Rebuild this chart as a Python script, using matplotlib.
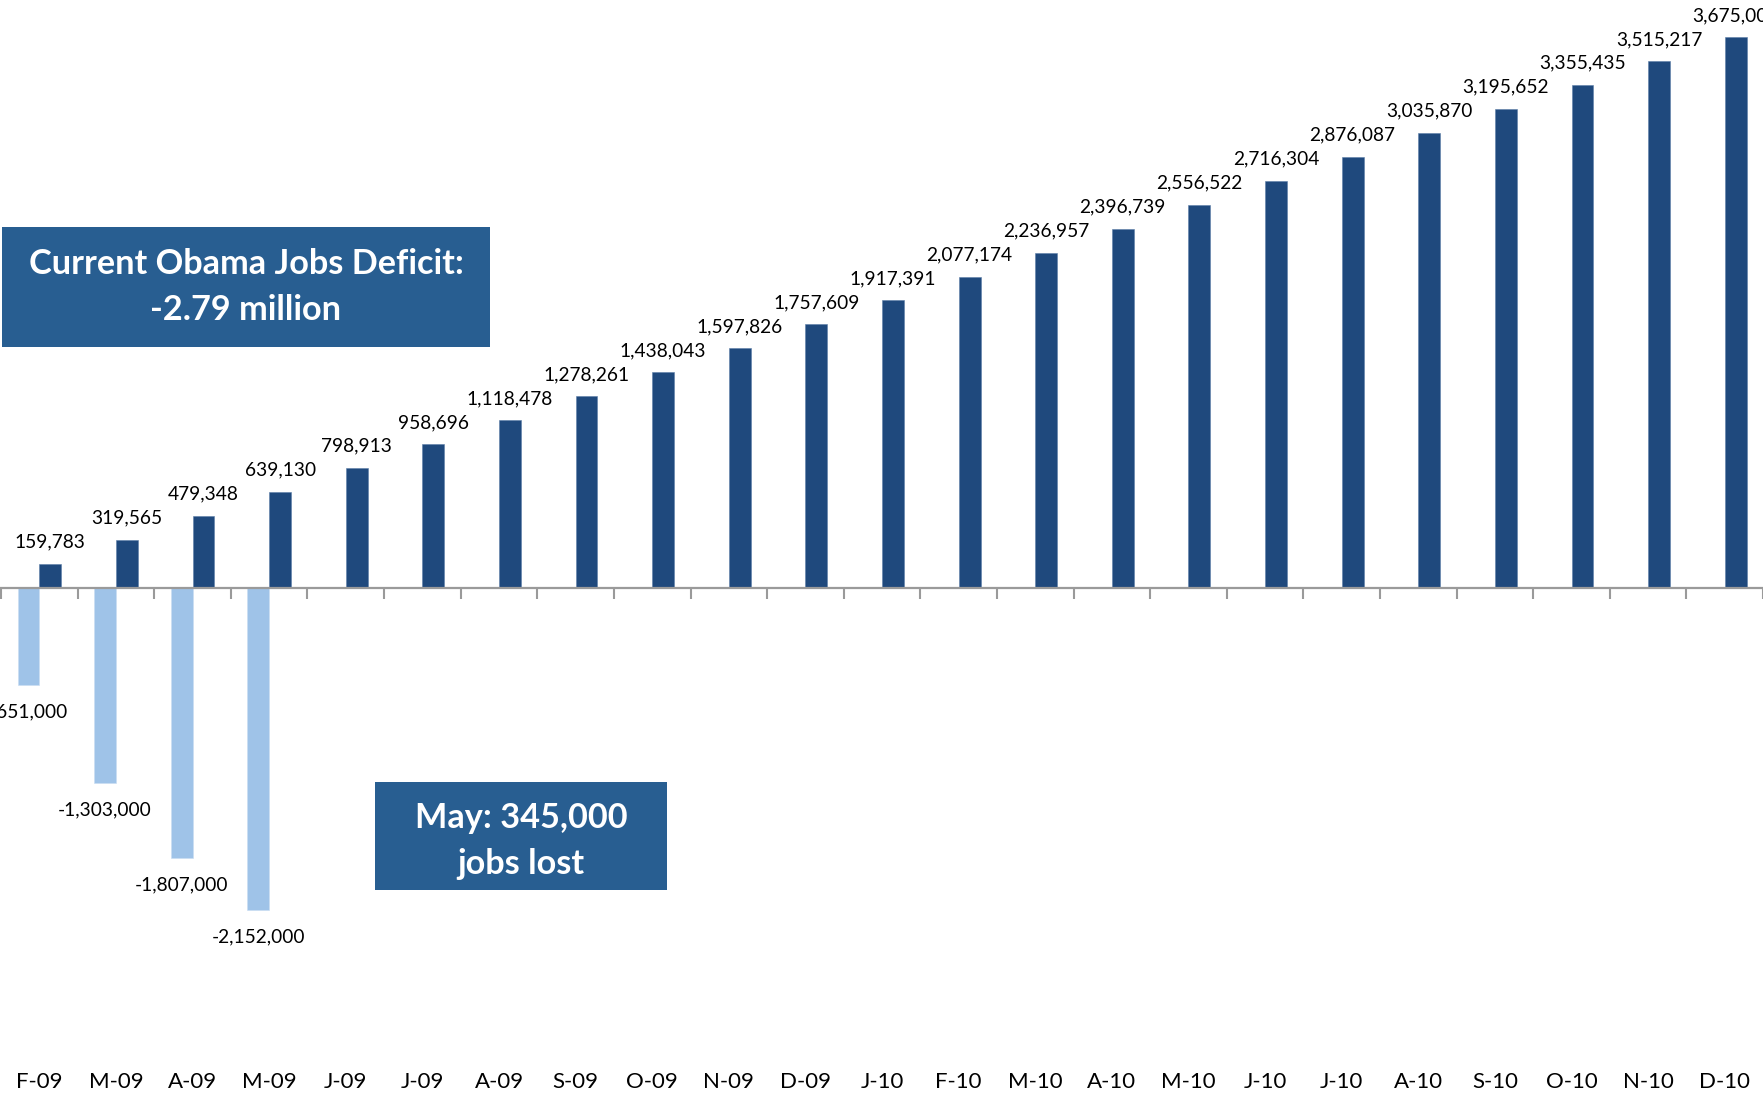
import numpy as np
import matplotlib
matplotlib.use("Agg")
import matplotlib.pyplot as plt
from matplotlib.patches import Rectangle

plt.rcParams['font.family'] = ['Lato', 'DejaVu Sans']

categories = ["F-09", "M-09", "A-09", "M-09", "J-09", "J-09", "A-09", "S-09", "O-09",
              "N-09", "D-09", "J-10", "F-10", "M-10", "A-10", "M-10", "J-10", "J-10",
              "A-10", "S-10", "O-10", "N-10", "D-10"]
projected = [159783, 319565, 479348, 639130, 798913, 958696, 1118478, 1278261, 1438043,
             1597826, 1757609, 1917391, 2077174, 2236957, 2396739, 2556522, 2716304,
             2876087, 3035870, 3195652, 3355435, 3515217, 3675000]
actual = [-651000, -1303000, -1807000, -2152000]

DARK = "#1F497D"
LIGHT = "#9FC3E8"
BOX = "#285E91"

W, H = 1763, 1095
fig = plt.figure(figsize=(W / 100, H / 100), dpi=100)
ax = fig.add_axes([0, 0, 1, 1])

x = np.arange(len(categories))
bw = 0.285
off = 0.143

ax.bar(x + off, projected, width=bw, color=DARK, edgecolor="#5d7fa8", linewidth=0.4, zorder=2)
xa = np.arange(len(actual))
ax.bar(xa - off, actual, width=bw, color=LIGHT, edgecolor="#c9ddf2", linewidth=0.4, zorder=2)

# scale: zero at 587.7 px from top, 149.8 px per million
zero_px = 587.7
ppm = 149.8
ax.set_ylim(-(H - zero_px) / ppm * 1e6, zero_px / ppm * 1e6)
ax.set_xlim(-0.514, 22.48)

for xi, v in zip(x, projected):
    ax.annotate(f"{v:,}", (xi + off, v), xytext=(0, 9.5), textcoords="offset points",
                ha="center", va="bottom", fontsize=13.8, color="black")
for xi, v in zip(xa, actual):
    ax.annotate(f"{v:,}", (xi - off, v), xytext=(0, -13), textcoords="offset points",
                ha="center", va="top", fontsize=13.8, color="black")

# axis at zero with ticks between categories
for s in ["top", "right", "left"]:
    ax.spines[s].set_visible(False)
ax.spines["bottom"].set_position(("data", 0))
ax.spines["bottom"].set_color("#9a9a9a")
ax.spines["bottom"].set_linewidth(1.6)
ax.spines["bottom"].set_zorder(3)
ax.set_xticks(np.arange(-1, len(categories)) + 0.5)
ax.set_xticklabels([])
ax.tick_params(axis="x", direction="out", length=8, width=1.5, color="#9a9a9a")
ax.set_yticks([])

# category labels at bottom
trans = ax.get_xaxis_transform()
for xi, c in zip(x, categories):
    ax.text(xi, (H - 1082) / H, c, transform=trans, ha="center", va="center",
            fontsize=16, color="black")

def box(x0, y0, x1, y1, lines, fs, dy=0):
    ax.add_patch(Rectangle((x0 / W, 1 - y1 / H), (x1 - x0) / W, (y1 - y0) / H,
                           transform=ax.transAxes, facecolor=BOX, edgecolor="none", zorder=4))
    ax.text((x0 + x1) / 2 / W, 1 - ((y0 + y1) / 2 + dy) / H, "\n".join(lines),
            transform=ax.transAxes, ha="center", va="center", color="white", fontsize=fs,
            fontweight="bold", linespacing=1.5, zorder=5)

box(2, 227, 490, 347, ["Current Obama Jobs Deficit:", "-2.79 million"], 24.7)
box(375, 782, 667, 890, ["May: 345,000", "jobs lost"], 24.7, dy=5)

fig.savefig("out.png", dpi=100)
